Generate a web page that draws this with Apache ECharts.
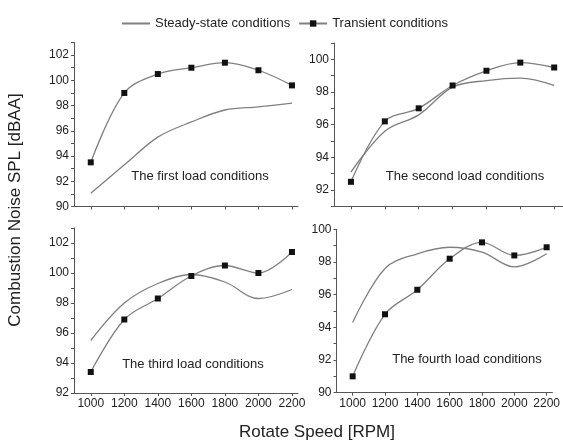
<!DOCTYPE html>
<html>
<head>
<meta charset="utf-8">
<script src="https://cdn.jsdelivr.net/npm/echarts@6/dist/echarts.min.js"></script>
<style>
  html, body { margin: 0; padding: 0; background: #fff; }
  #chart { width: 563px; height: 443px; }
</style>
</head>
<body>
<div id="chart"></div>
<script>
// Engine speed (RPM) shared by every panel
const rpm = [1000, 1200, 1400, 1600, 1800, 2000, 2200];

// Combustion noise SPL [dBAA], one pair of curves per load condition
const steady1    = [91.05, 93.3, 95.5, 96.7, 97.65, 97.9, 98.2];
const transient1 = [93.5, 99.0, 100.5, 101.0, 101.4, 100.8, 99.6];

const steady2    = [93.1, 95.6, 96.6, 98.3, 98.7, 98.85, 98.4];
const transient2 = [92.5, 96.2, 97.0, 98.4, 99.3, 99.8, 99.5];

const steady3    = [95.5, 98.0, 99.3, 99.9, 99.4, 98.3, 98.9];
const transient3 = [93.4, 96.9, 98.3, 99.8, 100.5, 100.0, 101.4];

const steady4    = [94.3, 97.6, 98.5, 98.9, 98.6, 97.7, 98.5];
const transient4 = [91.0, 94.8, 96.3, 98.2, 99.2, 98.4, 98.9];

// Y ranges and tick labels of each panel
const yMin = [90, 91, 92, 90];
const yMax = [103, 101, 103, 100];
const yTicks = [
  [90, 92, 94, 96, 98, 100, 102],
  [92, 94, 96, 98, 100],
  [92, 94, 96, 98, 100, 102],
  [90, 92, 94, 96, 98, 100]
];
const panelNames = [
  'The first load conditions',
  'The second load conditions',
  'The third load conditions',
  'The fourth load conditions'
];
const seriesNames = ['Steady-state conditions', 'Transient conditions'];

const FONT = "'Liberation Sans', Arial, Helvetica, sans-serif";
const AXIS = '#555';
const LINE = '#808080';

const grids = [
  { left: 74,  top: 42.5, width: 224, height: 164 },
  { left: 334, top: 43,   width: 229, height: 163.3 },
  { left: 74,  top: 228,  width: 224, height: 165 },
  { left: 336.5, top: 229.3, width: 226.5, height: 163.4 }
];
const xMax = [2236, 2252, 2236, 2236];

const pair = (vals) => rpm.map((r, i) => [r, vals[i]]);
const steadyAll = [steady1, steady2, steady3, steady4];
const transientAll = [transient1, transient2, transient3, transient4];

// every whole dB gets a tick mark, every labelled value a label
const wholeSteps = (lo, hi) => {
  const out = [];
  for (let v = Math.ceil(lo); v <= hi; v++) out.push(v);
  return out;
};

const xAxes = grids.map((g, i) => ({
  type: 'value',
  gridIndex: i,
  min: 900,
  max: xMax[i],
  axisLine: { show: true, lineStyle: { color: AXIS, width: 1 } },
  axisTick: { show: true, length: 3, lineStyle: { color: AXIS }, customValues: rpm },
  axisLabel: {
    show: i >= 2, customValues: rpm, margin: 5,
    formatter: (v) => String(v),
    fontFamily: FONT, fontSize: 12, color: '#222'
  },
  splitLine: { show: false }
}));

const yAxes = grids.map((g, i) => ({
  type: 'value',
  gridIndex: i,
  min: yMin[i],
  max: yMax[i],
  axisLine: { show: true, lineStyle: { color: AXIS, width: 1 } },
  axisTick: { show: true, length: 3, lineStyle: { color: AXIS },
              customValues: wholeSteps(yMin[i], yMax[i]) },
  axisLabel: {
    customValues: yTicks[i], margin: 5,
    formatter: (v) => String(v),
    fontFamily: FONT, fontSize: 12, color: '#222'
  },
  splitLine: { show: false }
}));

const series = [];
grids.forEach((g, i) => {
  series.push({
    name: seriesNames[0], type: 'line',
    xAxisIndex: i, yAxisIndex: i,
    data: pair(steadyAll[i]),
    smooth: 0.35, symbol: 'none',
    lineStyle: { color: LINE, width: 1.3 },
    itemStyle: { color: LINE },
    z: 2
  });
  series.push({
    name: seriesNames[1], type: 'line',
    xAxisIndex: i, yAxisIndex: i,
    data: pair(transientAll[i]),
    smooth: 0.35, symbol: 'rect', symbolSize: 6,
    showAllSymbol: true,
    lineStyle: { color: LINE, width: 1.3 },
    itemStyle: { color: '#111' },
    z: 3
  });
});

// Panel captions
const captionPos = [[200, 176], [465, 176], [193, 364], [467, 359]];
const graphics = captionPos.map((p, i) => ({
  type: 'text', x: p[0], y: p[1],
  style: {
    text: panelNames[i], fontFamily: FONT, fontSize: 13, fill: '#222',
    textAlign: 'center', textVerticalAlign: 'middle'
  }
}));
// Shared axis names
graphics.push({
  type: 'text', x: 317, y: 432,
  style: { text: 'Rotate Speed [RPM]', fontFamily: FONT, fontSize: 17, fill: '#222',
           textAlign: 'center', textVerticalAlign: 'middle' }
});
graphics.push({
  type: 'text', x: 15, y: 210, rotation: Math.PI / 2,
  style: { text: 'Combustion Noise SPL [dBAA]', fontFamily: FONT, fontSize: 17, fill: '#222',
           textAlign: 'center', textVerticalAlign: 'middle' }
});

const chart = echarts.init(document.getElementById('chart'), null, { renderer: 'canvas' });
chart.setOption({
  animation: false,
  backgroundColor: '#fff',
  legend: {
    left: 116, top: 12,
    itemWidth: 28, itemHeight: 8, itemGap: 8,
    data: [
      { name: seriesNames[0], itemStyle: { opacity: 0, borderWidth: 0 } },
      { name: seriesNames[1] }
    ],
    textStyle: { fontFamily: FONT, fontSize: 13, color: '#222' }
  },
  grid: grids,
  xAxis: xAxes,
  yAxis: yAxes,
  series: series,
  graphic: graphics
});
</script>
</body>
</html>
